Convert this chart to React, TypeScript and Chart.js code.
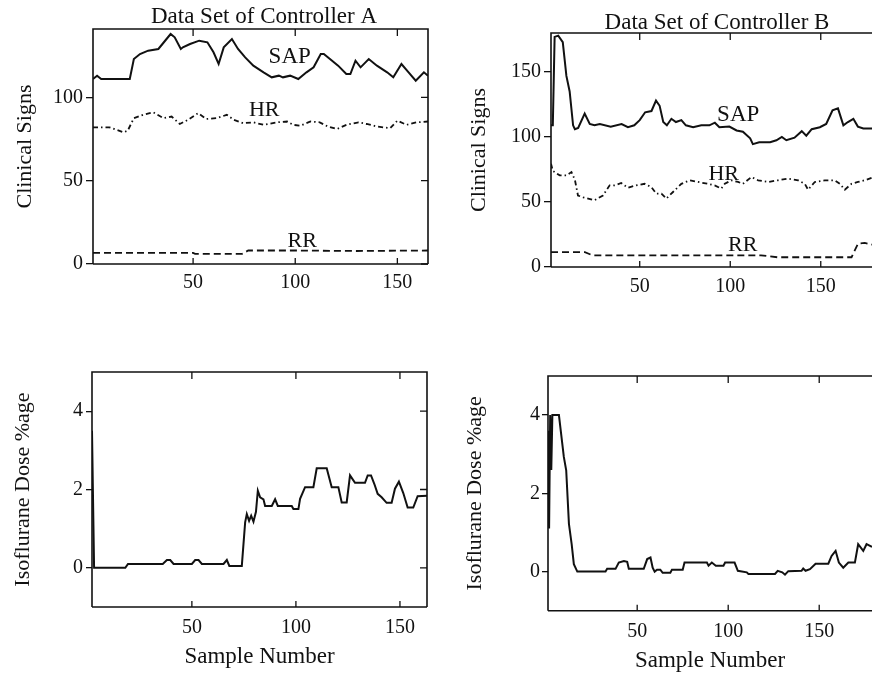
import React, { useEffect, useRef } from 'react';
import { Chart, registerables } from 'chart.js';

Chart.register(...registerables);

const FONT = "'Liberation Serif', 'Times New Roman', serif";
const INK = '#111111';

// ---------- Data: Controller A, clinical signs ----------
const sapAx = [1, 3, 5, 19, 21, 24, 28, 33, 35, 39, 41, 44, 45, 48.5, 53, 57, 60, 62.5, 65, 69, 72, 75.5, 79.5, 84.5, 88.5, 92, 94, 97.5, 101.5, 105.5, 109, 112.5, 114, 117, 121, 125, 127, 129.5, 132, 136, 140, 145, 148, 152, 155.5, 159, 163, 165];
const sapAy = [111, 113, 111, 111, 123, 126, 128, 129, 132, 138, 136, 129, 130, 132, 134, 133, 127, 120, 130, 135, 129, 124, 119, 115, 112, 113, 112, 113, 111, 115, 118, 126, 126, 123, 119, 114, 114, 122, 118, 123, 119, 115, 112, 120, 115, 110, 115, 113];

const hrAx = [1, 3, 9, 16, 18, 21, 25.5, 30.5, 35.5, 39.5, 43.5, 47.5, 52.5, 56.5, 61.5, 66.5, 70, 74.5, 79.5, 84.5, 91, 96, 99, 102.5, 107.5, 112, 116, 120.5, 125, 131, 135, 140, 146.5, 150, 154.5, 159.5, 165];
const hrAy = [82, 82, 82, 79, 80, 87.5, 89.5, 91, 87.5, 88.5, 84, 86.5, 90.5, 87, 87.5, 89.5, 86.5, 84.5, 85, 83.5, 85, 85.5, 83.5, 83, 85.5, 85, 82.5, 81, 83.5, 85, 84, 82.5, 81.5, 86, 83.5, 85, 85.5];

const rrAx = [1, 50, 51, 74, 77, 100, 130, 165];
const rrAy = [6.7, 6.7, 6.1, 6.1, 8.1, 8.1, 7.8, 8.1];

// ---------- Data: Controller B, clinical signs ----------
const sapBx = [1, 2, 3, 5, 7.5, 9.5, 11.3, 13.2, 14.2, 16, 19.6, 22.4, 25, 28, 34, 40, 43.5, 47, 50, 53, 56.5, 59, 61, 63, 65, 67.5, 70, 73, 75.5, 79.5, 84, 88.5, 91.5, 94, 99.5, 103.5, 107, 111, 112.5, 116, 122, 125.5, 128.5, 131, 135.5, 139.5, 142, 145, 149.5, 153, 156.5, 159.5, 162.5, 165, 168, 170.5, 173.5, 179];
const sapBy = [109, 109, 177, 178, 173, 147, 135, 109, 106, 107, 118, 110, 109, 110, 108, 110, 107.5, 109, 113, 119, 120, 128, 124, 111.5, 109, 114, 111.5, 113, 109, 107.5, 109, 109, 111, 107.5, 108, 105, 104, 99, 94.5, 96, 96, 97.5, 100, 97.5, 99.5, 104.5, 101, 106, 107.5, 110, 120.5, 122, 109, 111.5, 114, 108, 106.5, 106.5];

const hrBx = [1, 2, 5.8, 9.5, 12.3, 14.2, 15.9, 18.8, 25, 29.7, 33.4, 36.2, 39.8, 43.5, 48, 52.7, 56.4, 59.2, 62, 64.7, 68.4, 73, 77.6, 82.2, 87.7, 91.4, 95, 97, 100.6, 104.3, 107, 111.7, 115.4, 121, 126.4, 132, 137.5, 141.2, 143, 146.7, 152.2, 157.7, 160.5, 163.3, 167, 170.6, 174.3, 179];
const hrBy = [79.5, 74, 70.5, 70.5, 73, 67, 55, 53.6, 51.3, 55, 62.8, 62.8, 64.6, 61, 62.8, 64, 61.5, 56.4, 56.4, 52.6, 57.7, 64, 66.7, 65.4, 64, 62.8, 60.3, 64, 66.7, 65.4, 64, 69.2, 66.7, 65.4, 66.7, 68, 66.7, 64, 59.5, 65.4, 66.7, 66.7, 64, 59.5, 64, 65.4, 66.7, 69];

const rrBx = [1, 19.7, 23.9, 117, 126, 167, 170.6, 174.3, 179];
const rrBy = [11.5, 11.5, 9, 9, 7.5, 7.5, 18, 18.5, 17];

// ---------- Data: isoflurane dose ----------
const doseAx = [2, 3, 18, 19.3, 36, 38, 39.6, 41.2, 50, 51.6, 53.2, 54.8, 65.2, 66.8, 68, 74, 75.6, 76.4, 77.5, 78.5, 79.6, 80.8, 81.7, 82.8, 84.4, 85.2, 88.4, 90, 91.3, 98, 98.8, 101.2, 102, 104.4, 108.4, 110, 114.8, 117.2, 120.4, 122, 124.4, 126, 128.4, 133.2, 134.5, 136.1, 137.7, 139.3, 141.2, 143.6, 146, 147.6, 149.5, 151.6, 153.7, 156.4, 158.5, 163];
const doseAy = [3.5, 0, 0, 0.1, 0.1, 0.2, 0.2, 0.1, 0.1, 0.2, 0.2, 0.1, 0.1, 0.2, 0.05, 0.05, 1.16, 1.37, 1.2, 1.33, 1.18, 1.43, 1.97, 1.8, 1.75, 1.58, 1.58, 1.75, 1.58, 1.58, 1.5, 1.5, 1.76, 2.06, 2.06, 2.54, 2.54, 2.06, 2.06, 1.67, 1.67, 2.36, 2.17, 2.17, 2.36, 2.36, 2.14, 1.89, 1.8, 1.66, 1.66, 2.02, 2.2, 1.91, 1.54, 1.54, 1.83, 1.84];

const doseBx = [1, 1.6, 2.2, 2.8, 3.4, 7, 9.7, 11, 12.5, 14, 15.2, 17.1, 32.6, 33.5, 38.1, 39.9, 42.7, 44.5, 45.4, 53.6, 55.5, 57.3, 58.5, 59.6, 60.9, 62.7, 64, 68.2, 69.1, 75, 76, 88.3, 89.2, 91, 93.2, 97.4, 98.3, 103.5, 105.3, 110.2, 111.1, 125.7, 127.2, 129.7, 131.2, 133, 140.3, 141.2, 142.5, 144.9, 148, 155, 156.8, 159, 160.8, 163.2, 166, 169.6, 171.4, 174.2, 176, 179];
const doseBy = [3.6, 1.1, 4, 2.6, 4, 4, 2.93, 2.59, 1.22, 0.7, 0.19, 0, 0, 0.07, 0.07, 0.23, 0.27, 0.25, 0.07, 0.07, 0.32, 0.36, 0.1, 0, 0.05, 0.05, -0.03, -0.03, 0.05, 0.05, 0.23, 0.23, 0.15, 0.23, 0.15, 0.15, 0.23, 0.23, 0.02, -0.02, -0.06, -0.06, 0.02, -0.02, -0.08, 0.01, 0.02, 0.08, 0.02, 0.06, 0.2, 0.2, 0.4, 0.53, 0.23, 0.1, 0.23, 0.23, 0.7, 0.53, 0.7, 0.63];

// ---------- Tick labels ----------
const xTickValues = [50, 100, 150];
const yTicksSignsA = [0, 50, 100];
const yTicksSignsB = [0, 50, 100, 150];
const yTicksDose = [0, 2, 4];

const pts = (xs: number[], ys: number[]) => xs.map((x, i) => ({ x, y: ys[i] }));

const SOLID: number[] = [];
const DASHDOT = [5, 3, 1.5, 3];
const DASHED = [7, 4];

interface Series { x: number[]; y: number[]; dash: number[]; w: number; }
interface Label { text: string; x: number; y: number; size: number; }
interface PanelSpec {
  left: number; top: number; width: number; height: number;
  padTop: number; padRight: number; yWidth: number; xHeight: number;
  xMin: number; xMax: number; yMin: number; yMax: number;
  yTicks: number[];
  yTickLen: number; yTickPad: number; xTickPad: number;
  series: Series[];
  yTitle: string; yTitlePad: number;
  xTitle?: string; xTitlePad?: number;
  title?: string; titleX?: number; titleY?: number;
  labels: Label[];
  rightBorder: boolean;
}

const framePlugin = {
  id: 'frame',
  afterDatasetsDraw(chart: any, _args: any, opts: any) {
    const { ctx, chartArea } = chart;
    const { left, top, right, bottom } = chartArea;
    const xs = chart.scales.x;
    const ys = chart.scales.y;
    ctx.save();
    ctx.strokeStyle = INK;
    ctx.lineWidth = 1.6;
    ctx.setLineDash([]);
    ctx.beginPath();
    ctx.moveTo(left, bottom);
    ctx.lineTo(left, top);
    ctx.lineTo(right, top);
    if (opts.rightBorder) ctx.lineTo(right, bottom);
    ctx.moveTo(left, bottom);
    ctx.lineTo(right, bottom);
    ctx.stroke();
    ctx.lineWidth = 1.3;
    ctx.beginPath();
    xs.ticks.forEach((t: any) => {
      const px = xs.getPixelForValue(t.value);
      ctx.moveTo(px, top);
      ctx.lineTo(px, top + 7);
      ctx.moveTo(px, bottom);
      ctx.lineTo(px, bottom - 6);
    });
    if (opts.rightBorder) {
      ys.ticks.forEach((t: any) => {
        const py = ys.getPixelForValue(t.value);
        ctx.moveTo(right, py);
        ctx.lineTo(right - 7, py);
      });
    }
    ctx.stroke();
    ctx.fillStyle = INK;
    ctx.textAlign = 'center';
    ctx.textBaseline = 'middle';
    (opts.labels || []).forEach((l: Label) => {
      ctx.font = `${l.size}px ${FONT}`;
      ctx.fillText(l.text, xs.getPixelForValue(l.x), ys.getPixelForValue(l.y));
    });
    if (opts.title) {
      ctx.font = `23px ${FONT}`;
      ctx.fillText(opts.title, opts.titleX, opts.titleY);
    }
    ctx.restore();
  },
};

function Panel({ spec }: { spec: PanelSpec }) {
  const ref = useRef<HTMLCanvasElement | null>(null);
  useEffect(() => {
    if (!ref.current) return;
    const chart = new Chart(ref.current, {
      type: 'line',
      data: {
        datasets: spec.series.map((s) => ({
          data: pts(s.x, s.y),
          borderColor: INK,
          borderWidth: s.w,
          borderDash: s.dash,
          pointRadius: 0,
          fill: false,
          tension: 0,
        })),
      },
      options: {
        responsive: true,
        maintainAspectRatio: false,
        animation: false,
        layout: { padding: { top: spec.padTop, right: spec.padRight, left: 0, bottom: 0 } },
        plugins: {
          legend: { display: false },
          tooltip: { enabled: false },
          // @ts-ignore
          frame: {
            rightBorder: spec.rightBorder,
            labels: spec.labels,
            title: spec.title,
            titleX: spec.titleX,
            titleY: spec.titleY,
          },
        },
        scales: {
          x: {
            type: 'linear',
            min: spec.xMin,
            max: spec.xMax,
            border: { display: false },
            grid: { display: false, drawTicks: false },
            ticks: {
              color: INK,
              font: { family: FONT, size: 20 },
              padding: spec.xTickPad,
              maxRotation: 0,
              minRotation: 0,
              autoSkip: false,
            },
            title: spec.xTitle
              ? {
                  display: true,
                  text: spec.xTitle,
                  color: INK,
                  font: { family: FONT, size: 23 },
                  padding: { top: 0, bottom: spec.xTitlePad || 0 },
                }
              : { display: false },
            afterBuildTicks: (s: any) => {
              s.ticks = xTickValues.map((v) => ({ value: v }));
            },
            afterFit: (s: any) => {
              s.height = spec.xHeight;
            },
          },
          y: {
            type: 'linear',
            min: spec.yMin,
            max: spec.yMax,
            border: { display: false },
            grid: {
              display: true,
              drawOnChartArea: false,
              drawTicks: true,
              tickLength: spec.yTickLen,
              color: INK,
              lineWidth: 1.3,
            },
            ticks: {
              color: INK,
              font: { family: FONT, size: 20 },
              padding: spec.yTickPad,
              autoSkip: false,
            },
            title: {
              display: true,
              text: spec.yTitle,
              color: INK,
              font: { family: FONT, size: 22 },
              padding: { top: spec.yTitlePad, bottom: 0 },
            },
            afterBuildTicks: (s: any) => {
              s.ticks = spec.yTicks.map((v) => ({ value: v }));
            },
            afterFit: (s: any) => {
              s.width = spec.yWidth;
            },
          },
        },
      },
      plugins: [framePlugin as any],
    });
    return () => chart.destroy();
  }, [spec]);

  return (
    <div
      style={{
        position: 'absolute',
        left: spec.left,
        top: spec.top,
        width: spec.width,
        height: spec.height,
      }}
    >
      <canvas ref={ref} />
    </div>
  );
}

const panels: PanelSpec[] = [
  {
    left: 0, top: 0, width: 440, height: 305,
    padTop: 29, padRight: 12, yWidth: 93, xHeight: 41,
    xMin: 1, xMax: 165, yMin: 0, yMax: 141,
    yTicks: yTicksSignsA, yTickLen: 7, yTickPad: 3, xTickPad: 7,
    series: [
      { x: sapAx, y: sapAy, dash: SOLID, w: 2 },
      { x: hrAx, y: hrAy, dash: DASHDOT, w: 1.8 },
      { x: rrAx, y: rrAy, dash: DASHED, w: 1.8 },
    ],
    yTitle: 'Clinical Signs', yTitlePad: 11.8,
    title: 'Data Set of Controller A', titleX: 264, titleY: 17,
    labels: [
      { text: 'SAP', x: 97.3, y: 124, size: 23 },
      { text: 'HR', x: 84.8, y: 92, size: 22 },
      { text: 'RR', x: 103.4, y: 13.5, size: 22 },
    ],
    rightBorder: true,
  },
  {
    left: 440, top: 0, width: 432, height: 305,
    padTop: 33, padRight: 0, yWidth: 111, xHeight: 38,
    xMin: 1, xMax: 178.3, yMin: 0, yMax: 180,
    yTicks: yTicksSignsB, yTickLen: 7, yTickPad: 3, xTickPad: 8,
    series: [
      { x: sapBx, y: sapBy, dash: SOLID, w: 2 },
      { x: hrBx, y: hrBy, dash: DASHDOT, w: 1.8 },
      { x: rrBx, y: rrBy, dash: DASHED, w: 1.8 },
    ],
    yTitle: 'Clinical Signs', yTitlePad: 25.8,
    title: 'Data Set of Controller B', titleX: 277, titleY: 23,
    labels: [
      { text: 'SAP', x: 104.4, y: 117, size: 23 },
      { text: 'HR', x: 96.4, y: 71.7, size: 22 },
      { text: 'RR', x: 106.9, y: 16.7, size: 22 },
    ],
    rightBorder: false,
  },
  {
    left: 0, top: 330, width: 440, height: 345,
    padTop: 42, padRight: 13, yWidth: 92, xHeight: 68,
    xMin: 2, xMax: 163, yMin: -1, yMax: 5,
    yTicks: yTicksDose, yTickLen: 6, yTickPad: 3, xTickPad: 9,
    series: [{ x: doseAx, y: doseAy, dash: SOLID, w: 2 }],
    yTitle: 'Isoflurane Dose %age', yTitlePad: 10.3,
    xTitle: 'Sample Number', xTitlePad: 4.2,
    labels: [],
    rightBorder: true,
  },
  {
    left: 440, top: 330, width: 432, height: 345,
    padTop: 46, padRight: 0, yWidth: 108, xHeight: 64.3,
    xMin: 1, xMax: 179, yMin: -1, yMax: 5,
    yTicks: yTicksDose, yTickLen: 6, yTickPad: 2, xTickPad: 9,
    series: [{ x: doseBx, y: doseBy, dash: SOLID, w: 2 }],
    yTitle: 'Isoflurane Dose %age', yTitlePad: 21.8,
    xTitle: 'Sample Number', xTitlePad: 0,
    labels: [],
    rightBorder: false,
  },
];

export default function App() {
  return (
    <div
      style={{
        position: 'absolute',
        left: 0,
        top: 0,
        width: 872,
        height: 675,
        overflow: 'hidden',
        background: '#ffffff',
      }}
    >
      {panels.map((p, i) => (
        <Panel key={i} spec={p} />
      ))}
    </div>
  );
}
